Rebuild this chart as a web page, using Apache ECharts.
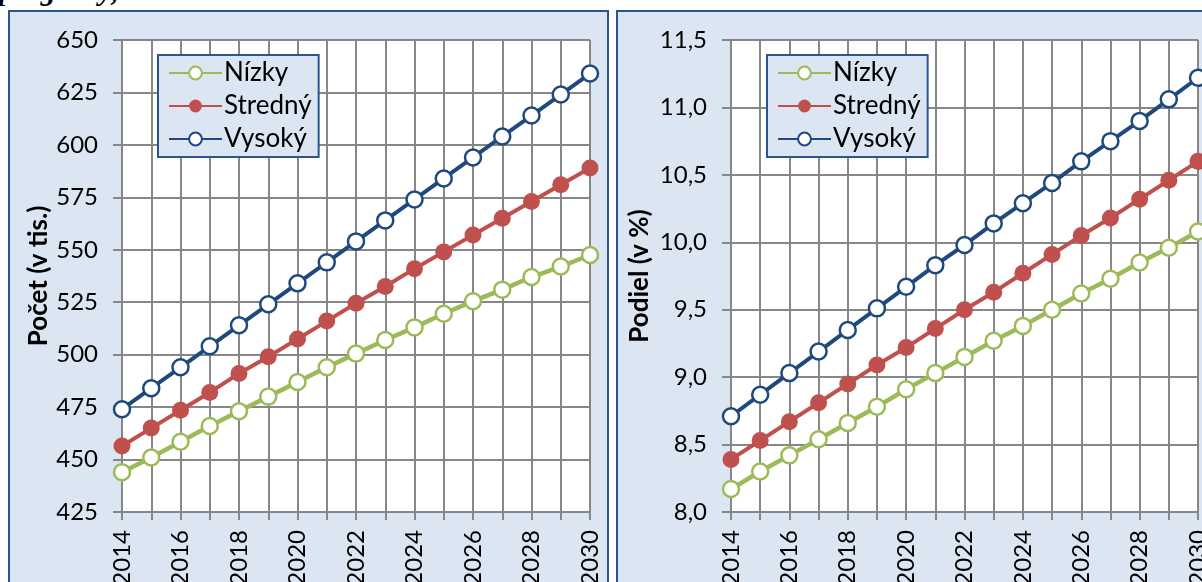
<!DOCTYPE html>
<html>
<head>
<meta charset="utf-8">
<script src="https://cdn.jsdelivr.net/npm/echarts@6/dist/echarts.min.js"></script>
<style>
html,body{margin:0;padding:0;background:#fff;overflow:hidden;}
#wrap{position:relative;width:1202px;height:582px;overflow:hidden;}
.panel{position:absolute;background:#dce6f2;border:2px solid #2a5592;box-sizing:border-box;}
#p1{left:8px;top:10px;width:601px;height:620px;}
#p2{left:616px;top:10px;width:620px;height:620px;}
#top{position:absolute;left:-1px;top:-25px;font-family:"Liberation Serif",serif;font-weight:bold;font-style:italic;font-size:30px;line-height:30px;white-space:nowrap;color:#000;}
#chart{position:absolute;left:0;top:0;width:1202px;height:582px;}
</style>
</head>
<body>
<div id="wrap">
<div id="top">prognózy,</div>
<div class="panel" id="p1"></div>
<div class="panel" id="p2"></div>
<div id="chart"></div>
</div>
<script>
const years = ['2014','2015','2016','2017','2018','2019','2020','2021','2022','2023','2024','2025','2026','2027','2028','2029','2030'];
const seriesNames = ['Nízky','Stredný','Vysoký'];

// Left panel: Počet (v tis.)
const countLow  = [444, 451, 458.5, 466, 473, 480, 487, 494, 500.5, 507, 513, 519.5, 525.5, 531, 537, 542, 547.5];
const countMid  = [456.5, 465, 473.5, 482, 491, 499, 507.5, 516, 524.5, 532.5, 541, 549, 557, 565, 573, 581, 589];
const countHigh = [474, 484, 494, 504, 514, 524, 534, 544, 554, 564, 574, 584, 594, 604, 614, 624, 634];

// Right panel: Podiel (v %)
const shareLow  = [8.17, 8.30, 8.42, 8.54, 8.66, 8.78, 8.91, 9.03, 9.15, 9.27, 9.38, 9.50, 9.62, 9.73, 9.85, 9.96, 10.08];
const shareMid  = [8.39, 8.53, 8.67, 8.81, 8.95, 9.09, 9.22, 9.36, 9.50, 9.63, 9.77, 9.91, 10.05, 10.18, 10.32, 10.46, 10.60];
const shareHigh = [8.71, 8.87, 9.03, 9.19, 9.35, 9.51, 9.67, 9.83, 9.98, 10.14, 10.29, 10.44, 10.60, 10.75, 10.90, 11.06, 11.22];

const colors = ['#9bbb59', '#c0504d', '#1f497d'];
const FONT = 'Lato, "Open Sans", sans-serif';
const GRID = '#878787';

function xAxis(idx){
  return {
    type:'category', gridIndex:idx, data:years, boundaryGap:false,
    axisLine:{show:true, lineStyle:{color:GRID, width:2}},
    axisTick:{show:true, interval:0, length:8, lineStyle:{color:GRID, width:2}},
    axisLabel:{interval:1, rotate:90, margin:18, fontSize:24, fontFamily:FONT, color:'#000'},
    splitLine:{show:true, interval:0, lineStyle:{color:GRID, width:2}}
  };
}
function yAxis(idx, min, max, step, name, gap, fmt){
  return {
    type:'value', gridIndex:idx, min:min, max:max, interval:step,
    name:name, nameLocation:'middle', nameGap:gap,
    nameTextStyle:{fontSize:26, fontWeight:'bold', fontFamily:FONT, color:'#000'},
    axisLine:{show:true, lineStyle:{color:GRID, width:2}},
    axisTick:{show:true, length:9, lineStyle:{color:GRID, width:2}},
    axisLabel:{margin:24, fontSize:24, fontFamily:FONT, color:'#000', formatter:fmt},
    splitLine:{show:true, lineStyle:{color:GRID, width:2}}
  };
}
function mkSeries(name, data, ci, idx){
  const hollow = ci !== 1;
  return {
    name:name, type:'line', xAxisIndex:idx, yAxisIndex:idx, data:data,
    color:colors[ci],
    symbol:'circle', symbolSize: hollow ? 16 : 17,
    lineStyle:{color:colors[ci], width: ci===0 ? 4.5 : 4},
    itemStyle: hollow ? {color:'#fff', borderColor:colors[ci], borderWidth:2.5} : {color:colors[ci], borderWidth:0},
    animation:false, z: 3 + ci
  };
}
function legend(left){
  return {
    data:seriesNames, orient:'vertical', left:left, top:55,
    backgroundColor:'#dce6f2', borderColor:'#2a5592', borderWidth:2,
    padding:[5,7,5,10], itemGap:7, itemWidth:53, itemHeight:16,
    textStyle:{fontSize:26, fontFamily:FONT, color:'#000', padding:[0,0,0,-3]},
    selectedMode:false
  };
}

const chart = echarts.init(document.getElementById('chart'), null, {renderer:'canvas'});
chart.setOption({
  animation:false,
  backgroundColor:'transparent',
  grid:[
    {left:122, top:40, width:468, height:472, show:true, backgroundColor:'#fff', borderWidth:0, containLabel:false, outerBoundsMode:'none'},
    {left:731, top:40, width:467, height:472, show:true, backgroundColor:'#fff', borderWidth:0, containLabel:false, outerBoundsMode:'none'}
  ],
  legend:[legend(158), legend(767)],
  xAxis:[xAxis(0), xAxis(1)],
  yAxis:[
    yAxis(0, 425, 650, 25, 'Počet (v tis.)', 70, v => String(v)),
    yAxis(1, 8, 11.5, 0.5, 'Podiel (v %)', 78, v => v.toFixed(1).replace('.', ','))
  ],
  series:[
    mkSeries('Nízky', countLow, 0, 0),
    mkSeries('Stredný', countMid, 1, 0),
    mkSeries('Vysoký', countHigh, 2, 0),
    mkSeries('Nízky', shareLow, 0, 1),
    mkSeries('Stredný', shareMid, 1, 1),
    mkSeries('Vysoký', shareHigh, 2, 1)
  ]
});
</script>
</body>
</html>
